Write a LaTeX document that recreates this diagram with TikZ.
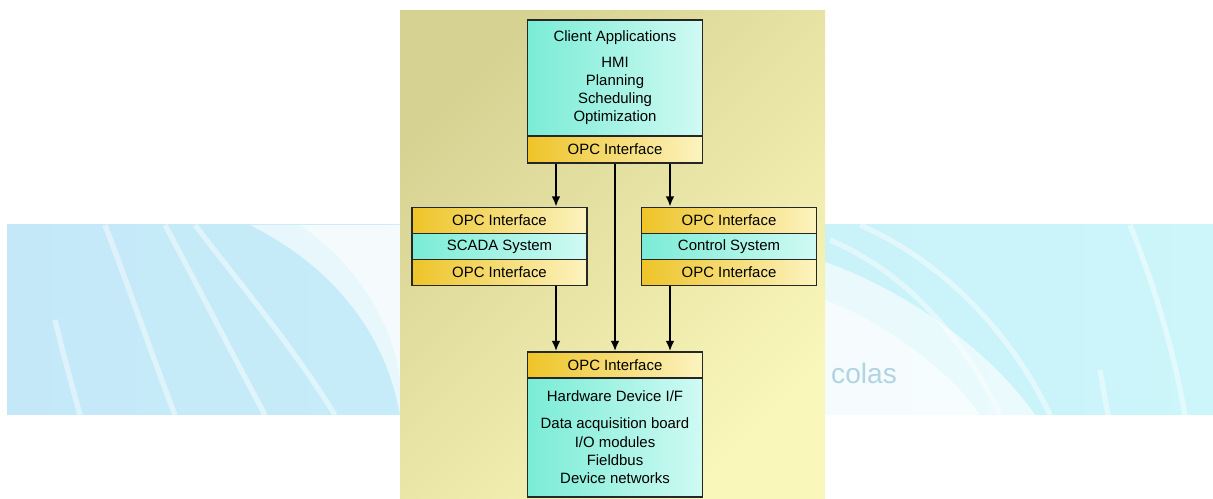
\documentclass[tikz,border=0pt]{standalone}
\usepackage{fontspec}
\setmainfont{Liberation Sans}
\usetikzlibrary{arrows.meta}

\definecolor{panelkhaki}{RGB}{214,210,146}
\definecolor{panelpale}{RGB}{250,247,186}
\definecolor{bandblue}{RGB}{196,232,248}
\definecolor{bandcyan}{RGB}{204,246,250}
\definecolor{sysaqua}{RGB}{122,236,214}
\definecolor{syspale}{RGB}{208,250,243}
\definecolor{opcgold}{RGB}{238,196,40}
\definecolor{opcpale}{RGB}{252,243,192}
\definecolor{wmark}{RGB}{176,212,228}

\tikzset{
  strip/.style={draw=black!85, line width=0.8pt, inner sep=0pt, minimum width=3.5cm,
    minimum height=0.52cm, text=black, font=\fontsize{8.5}{10.4}\selectfont},
  opc/.style={strip, left color=opcgold, right color=opcpale},
  sys/.style={strip, left color=sysaqua, right color=syspale},
  link/.style={-{Latex[length=6pt,width=5pt]}, line width=1.3pt},
  streak/.style={white, line width=3pt, opacity=0.45}
}

\begin{document}
\begin{tikzpicture}[x=0.02cm, y=-0.02cm]
    \useasboundingbox (0,0) rectangle (1213,499);

    % background band
    \shade[left color=bandblue, right color=bandcyan] (7,225) rectangle (1213,415);
    \fill[white, opacity=0.6] (250,225) .. controls (330,265) and (385,330) .. (400,415) -- (400,225) -- cycle;
    \fill[white, opacity=0.6] (300,225) .. controls (360,265) and (395,330) .. (400,380) -- (400,225) -- cycle;
    \fill[white, opacity=0.6] (825,262) .. controls (905,290) and (990,350) .. (1035,415) -- (825,415) -- cycle;
    \fill[white, opacity=0.6] (825,300) .. controls (880,320) and (950,370) .. (980,415) -- (825,415) -- cycle;
    \draw[streak] (105,225) .. controls (130,290) and (150,350) .. (175,415);
    \draw[streak] (165,225) .. controls (200,290) and (230,350) .. (265,415);
    \draw[streak] (55,320) .. controls (65,360) .. (80,415);
    \draw[streak] (195,225) .. controls (245,290) and (295,350) .. (335,415);
    \draw[streak] (830,240) .. controls (900,270) and (960,330) .. (1000,415);
    \draw[streak] (860,225) .. controls (940,260) and (1010,330) .. (1050,415);
    \draw[streak] (1130,225) .. controls (1160,300) and (1175,360) .. (1185,415);
    \draw[streak] (1100,370) -- (1108,415);
    \node[anchor=west, text=wmark, font=\fontsize{16}{16}\selectfont] (wm) at (825,373) {colas};

    % panel
    \shade[top color=panelkhaki, bottom color=panelpale, shading angle=45] (400,11) rectangle (825,499);

    \node[sys, minimum height=2.32cm, align=center] (client) at (615,78)
      {Client Applications\\[4pt]HMI\\Planning\\Scheduling\\Optimization};
    \node[opc, minimum height=0.54cm] (clientopc) at (615,149.5) {OPC Interface};

    \node[opc] (scadatop) at (499.5,220.5) {OPC Interface};
    \node[sys] (scada)    at (499.5,246.5) {SCADA System};
    \node[opc] (scadabot) at (499.5,272.5) {OPC Interface};

    \node[opc] (ctrltop) at (729,220.5) {OPC Interface};
    \node[sys] (ctrl)    at (729,246.5) {Control System};
    \node[opc] (ctrlbot) at (729,272.5) {OPC Interface};

    \node[opc] (hwopc) at (615,365) {OPC Interface};
    \node[sys, minimum height=2.38cm, align=center] (hw) at (615,437.5)
      {Hardware Device I/F\\[5pt]Data acquisition board\\I/O modules\\Fieldbus\\Device networks};

    \coordinate (leftlane) at (556,0);
    \coordinate (rightlane) at (670,0);
    \draw[link] (clientopc.south -| leftlane) -- (scadatop.north -| leftlane);
    \draw[link] (clientopc.south) -- (hwopc.north);
    \draw[link] (clientopc.south -| rightlane) -- (ctrltop.north -| rightlane);
    \draw[link] (scadabot.south -| leftlane) -- (hwopc.north -| leftlane);
    \draw[link] (ctrlbot.south -| rightlane) -- (hwopc.north -| rightlane);
\end{tikzpicture}
\end{document}
